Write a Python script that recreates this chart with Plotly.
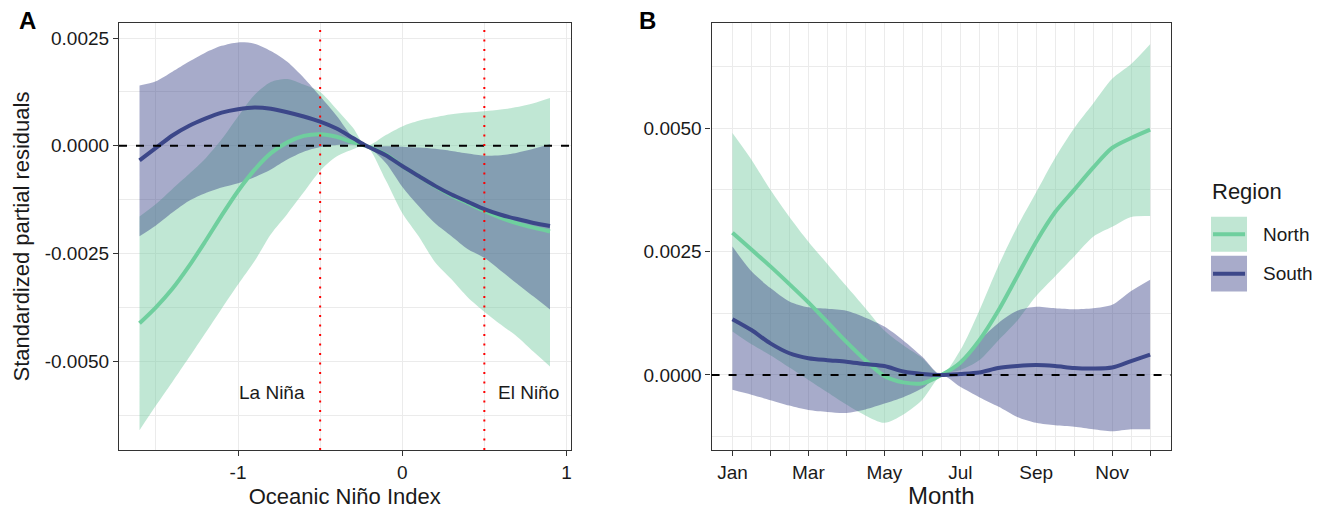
import plotly.graph_objects as go

# ---------------- data ----------------
oni = [-1.6, -1.5, -1.4, -1.3, -1.2, -1.1, -1.0, -0.9, -0.8, -0.7, -0.6, -0.5, -0.4,
       -0.3, -0.22, -0.1, 0.0, 0.1, 0.2, 0.3, 0.4, 0.5, 0.6, 0.7, 0.8, 0.9]

north_oni_fit = [-0.00412, -0.00375, -0.00332, -0.0028, -0.00222, -0.00162, -0.00105, -0.00056,
                 -0.00017, 0.00008, 0.00023, 0.00027, 0.00021, 0.00008, 0.0, -0.0002, -0.00047,
                 -0.0007, -0.00094, -0.00115, -0.00133, -0.00151, -0.00167, -0.0018, -0.0019, -0.00199]
north_oni_hi = [-0.00164, -0.00135, -0.001, -0.00066, -0.0003, 0.00015, 0.00068, 0.00118, 0.00148,
                0.00155, 0.00142, 0.00125, 0.00085, 0.00042, 0.0, 0.00025, 0.00045, 0.00058, 0.00066,
                0.00073, 0.00077, 0.0008, 0.00084, 0.0009, 0.00099, 0.00111]
north_oni_lo = [-0.0066, -0.00603, -0.00548, -0.00492, -0.00435, -0.00378, -0.00322, -0.00268,
                -0.00205, -0.00158, -0.00108, -0.00058, -0.00025, -0.00008, 0.0, -0.0008, -0.00156,
                -0.0021, -0.0027, -0.0031, -0.00352, -0.00385, -0.00415, -0.00443, -0.00478, -0.00512]

south_oni_fit = [-0.00034, -0.00005, 0.00024, 0.00046, 0.00063, 0.00077, 0.00085, 0.00089, 0.00086,
                 0.00078, 0.00068, 0.00056, 0.0004, 0.00018, 0.0, -0.00022, -0.00047, -0.0007,
                 -0.00093, -0.00113, -0.0013, -0.00147, -0.0016, -0.0017, -0.00179, -0.00186]
south_oni_hi = [0.0014, 0.0015, 0.00172, 0.00195, 0.00216, 0.00232, 0.0024, 0.00237, 0.0022,
                0.00195, 0.00158, 0.00115, 0.0007, 0.0002, 0.0, -0.00001, -0.00002, -0.00004,
                -0.00007, -0.00012, -0.00018, -0.00023, -0.00022, -0.00016, -0.00007, 0.00004]
south_oni_lo = [-0.0021, -0.00185, -0.00155, -0.00128, -0.0011, -0.00097, -0.00087, -0.00073,
                -0.00055, -0.00032, -0.00014, -0.00003, 0.00002, 0.00003, 0.0, -0.0004, -0.00095,
                -0.0014, -0.0018, -0.0021, -0.0024, -0.0026, -0.0029, -0.0032, -0.0035, -0.0038]

month = [1, 1.5, 2, 2.5, 3, 3.5, 4, 4.5, 5, 5.5, 6, 6.5, 7, 7.5, 8, 8.5, 9, 9.5, 10, 10.5, 11, 11.5, 12]

north_month_fit = [0.00288, 0.00254, 0.0022, 0.00184, 0.00147, 0.00107, 0.00067, 0.0003, -0.00002,
                   -0.00015, -0.00017, 0.0, 0.00025, 0.0007, 0.0013, 0.002, 0.0027, 0.0033, 0.00375,
                   0.0042, 0.0046, 0.0048, 0.00497]
north_month_hi = [0.0049, 0.00436, 0.00375, 0.0032, 0.0027, 0.00225, 0.0018, 0.00135, 0.0009, 0.0006,
                  0.00034, 0.0, 0.0005, 0.0013, 0.0022, 0.003, 0.0037, 0.0044, 0.005, 0.0055, 0.006,
                  0.0063, 0.0067]
north_month_lo = [0.00088, 0.00062, 0.0004, 0.00015, -0.0001, -0.00035, -0.0006, -0.00082, -0.00097,
                  -0.0008, -0.0005, 0.0, 0.0001, 0.0003, 0.0007, 0.0011, 0.0016, 0.002, 0.0024, 0.0028,
                  0.003, 0.0032, 0.00322]

south_month_fit = [0.00113, 0.00091, 0.00064, 0.00044, 0.00034, 0.0003, 0.00027, 0.00022, 0.00018,
                   0.00007, 0.00002, 0.0, 0.00002, 0.00005, 0.00014, 0.00018, 0.0002, 0.00018, 0.00014,
                   0.00013, 0.00015, 0.00028, 0.00041]
south_month_hi = [0.0026, 0.0021, 0.00176, 0.00149, 0.00137, 0.00134, 0.0013, 0.00116, 0.00098, 0.0007,
                  0.00037, 0.0, 0.0003, 0.0007, 0.00105, 0.0013, 0.00138, 0.00135, 0.00133, 0.00135,
                  0.00142, 0.0017, 0.00193]
south_month_lo = [-0.0003, -0.0004, -0.00051, -0.00062, -0.00071, -0.00075, -0.00077, -0.0007, -0.00058,
                  -0.00045, -0.00027, 0.0, -0.00024, -0.00045, -0.00064, -0.00085, -0.00097, -0.00102,
                  -0.00105, -0.0011, -0.00114, -0.0011, -0.0011]

month_ticks = [1, 2, 3, 4, 5, 6, 7, 8, 9, 10, 11, 12]
month_labels = ["Jan", "", "Mar", "", "May", "", "Jul", "", "Sep", "", "Nov", ""]
oni_ticks = [-1, 0, 1]
oni_labels = ["-1", "0", "1"]
a_yticks = [-0.005, -0.0025, 0.0, 0.0025]
a_ylabels = ["-0.0050", "-0.0025", "0.0000", "0.0025"]
b_yticks = [0.0, 0.0025, 0.005]
b_ylabels = ["0.0000", "0.0025", "0.0050"]
enso_thresholds = [-0.5, 0.5]
enso_labels = [("La Niña", -0.795), ("El Niño", 0.767)]
enso_label_y = -0.00572
regions = ["North", "South"]

# ---------------- styles ----------------
FONT = "Liberation Sans, Arial, sans-serif"
LINE_COL = {"North": "#6fcf9e", "South": "#3c4789"}
FILL_COL = {"North": "rgba(112,200,156,0.44)", "South": "rgba(60,68,137,0.45)"}
KEY_FILL = {"North": "#c0e6d3", "South": "#a8abca"}

W, H = 1324, 509
L, R, T, B = 119.3, 1171.0, 23.3, 450.0


def fx(px):
    return (px - L) / (R - L)


def fy(py):
    return (B - py) / (B - T)


fig = go.Figure()

panel_a = {
    "North": (north_oni_fit, north_oni_lo, north_oni_hi),
    "South": (south_oni_fit, south_oni_lo, south_oni_hi),
}
panel_b = {
    "North": (north_month_fit, north_month_lo, north_month_hi),
    "South": (south_month_fit, south_month_lo, south_month_hi),
}

for xs, data, xa, ya in [(oni, panel_a, "x", "y"), (month, panel_b, "x2", "y2")]:
    for reg in regions:
        fit, lo, hi = data[reg]
        fig.add_trace(go.Scatter(x=xs, y=lo, mode="lines", line=dict(width=0, shape="spline", smoothing=0.8),
                                 hoverinfo="skip", showlegend=False, xaxis=xa, yaxis=ya))
        fig.add_trace(go.Scatter(x=xs, y=hi, mode="lines", line=dict(width=0, shape="spline", smoothing=0.8),
                                 fill="tonexty", fillcolor=FILL_COL[reg], name=reg,
                                 showlegend=False, xaxis=xa, yaxis=ya))
    for reg in regions:
        fit, lo, hi = data[reg]
        fig.add_trace(go.Scatter(x=xs, y=fit, mode="lines", name=reg,
                                 line=dict(color=LINE_COL[reg], width=4, shape="spline", smoothing=0.8),
                                 showlegend=False, xaxis=xa, yaxis=ya))

shapes = []
# zero dashed lines
for xr, yr in [("x domain", "y"), ("x2 domain", "y2")]:
    shapes.append(dict(type="line", xref=xr, yref=yr, x0=0, x1=1, y0=0, y1=0,
                       line=dict(color="black", width=2, dash="8px,9px"), layer="above"))
# ENSO thresholds
for v in enso_thresholds:
    shapes.append(dict(type="line", xref="x", yref="y domain", x0=v, x1=v, y0=0, y1=1,
                       line=dict(color="red", width=2, dash="2px,7.5px"), layer="above"))

# manual legend keys
for reg, (y0, y1) in zip(regions, [(217, 252), (256, 291.5)]):
    shapes.append(dict(type="rect", xref="paper", yref="paper", x0=fx(1211), x1=fx(1247),
                       y0=fy(y1), y1=fy(y0), fillcolor=KEY_FILL[reg], line=dict(width=0)))
    ym = (y0 + y1) / 2
    shapes.append(dict(type="line", xref="paper", yref="paper", x0=fx(1213), x1=fx(1245),
                       y0=fy(ym), y1=fy(ym), line=dict(color=LINE_COL[reg], width=4)))

annotations = []
for txt, xv in enso_labels:
    annotations.append(dict(text=txt, x=xv, y=enso_label_y, xref="x", yref="y", showarrow=False,
                            xanchor="center", yanchor="middle",
                            font=dict(size=19, color="#1a1a1a", family=FONT)))
annotations.append(dict(text="<b>A</b>", x=fx(28), y=fy(21), xref="paper", yref="paper",
                        xanchor="center", yanchor="middle",
                        showarrow=False, font=dict(size=24, color="black", family=FONT)))
annotations.append(dict(text="<b>B</b>", x=fx(648), y=fy(21), xref="paper", yref="paper",
                        xanchor="center", yanchor="middle",
                        showarrow=False, font=dict(size=24, color="black", family=FONT)))
annotations.append(dict(text="Region", x=fx(1210), y=fy(192), xref="paper", yref="paper",
                        xanchor="left", yanchor="middle", showarrow=False,
                        font=dict(size=22, color="#1a1a1a", family=FONT)))
for reg, ym in zip(regions, [234.5, 273.7]):
    annotations.append(dict(text=reg, x=fx(1261), y=fy(ym), xref="paper", yref="paper",
                            xanchor="left", yanchor="middle", showarrow=False,
                            font=dict(size=19, color="#1a1a1a", family=FONT)))

GRID = "#ebebeb"
common_axis = dict(showline=True, linecolor="#333333", linewidth=1.2, mirror=True,
                   ticks="outside", ticklen=5, tickwidth=1.2, tickcolor="#333333",
                   showgrid=True, gridcolor=GRID, gridwidth=1.4, zeroline=False, automargin=False,
                   tickfont=dict(size=19, color="#1a1a1a", family=FONT))

fig.update_layout(
    width=W, height=H,
    margin=dict(l=L, r=W - R, t=T, b=H - B, autoexpand=False),
    paper_bgcolor="white", plot_bgcolor="white",
    shapes=shapes, annotations=annotations, showlegend=False,
    xaxis=dict(domain=[0, fx(570.7)], range=[-1.725, 1.025], tickvals=oni_ticks, ticktext=oni_labels,
               minor=dict(tickvals=[-1.5, -0.5, 0.5], showgrid=True, gridcolor=GRID, gridwidth=1.0, ticklen=0),
               title=dict(text="Oceanic Niño Index", font=dict(size=22, color="#1a1a1a", family=FONT), standoff=8),
               anchor="y", **common_axis),
    yaxis=dict(domain=[0, 1], range=[-0.00706, 0.00285], tickvals=a_yticks, ticktext=a_ylabels,
               minor=dict(tickvals=[-0.00625, -0.00375, -0.00125, 0.00125], showgrid=True, gridcolor=GRID,
                          gridwidth=1.0, ticklen=0),
               title=dict(text="Standardized partial residuals", font=dict(size=22, color="#1a1a1a", family=FONT),
                          standoff=8),
               anchor="x", **common_axis),
    xaxis2=dict(domain=[fx(711.7), 1], range=[0.45, 12.55], tickvals=month_ticks, ticktext=month_labels,
                minor=dict(tickvals=[m + 0.5 for m in month_ticks[:-1]], showgrid=True, gridcolor=GRID,
                           gridwidth=1.0, ticklen=0),
                title=dict(text="Month", font=dict(size=24, color="#1a1a1a", family=FONT), standoff=4),
                anchor="y2", **common_axis),
    yaxis2=dict(domain=[0, 1], range=[-0.00152, 0.00713], tickvals=b_yticks, ticktext=b_ylabels,
                minor=dict(tickvals=[-0.00125, 0.00125, 0.00375, 0.00625], showgrid=True, gridcolor=GRID,
                           gridwidth=1.0, ticklen=0),
                anchor="x2", **common_axis),
)

fig.write_html("out.html")
